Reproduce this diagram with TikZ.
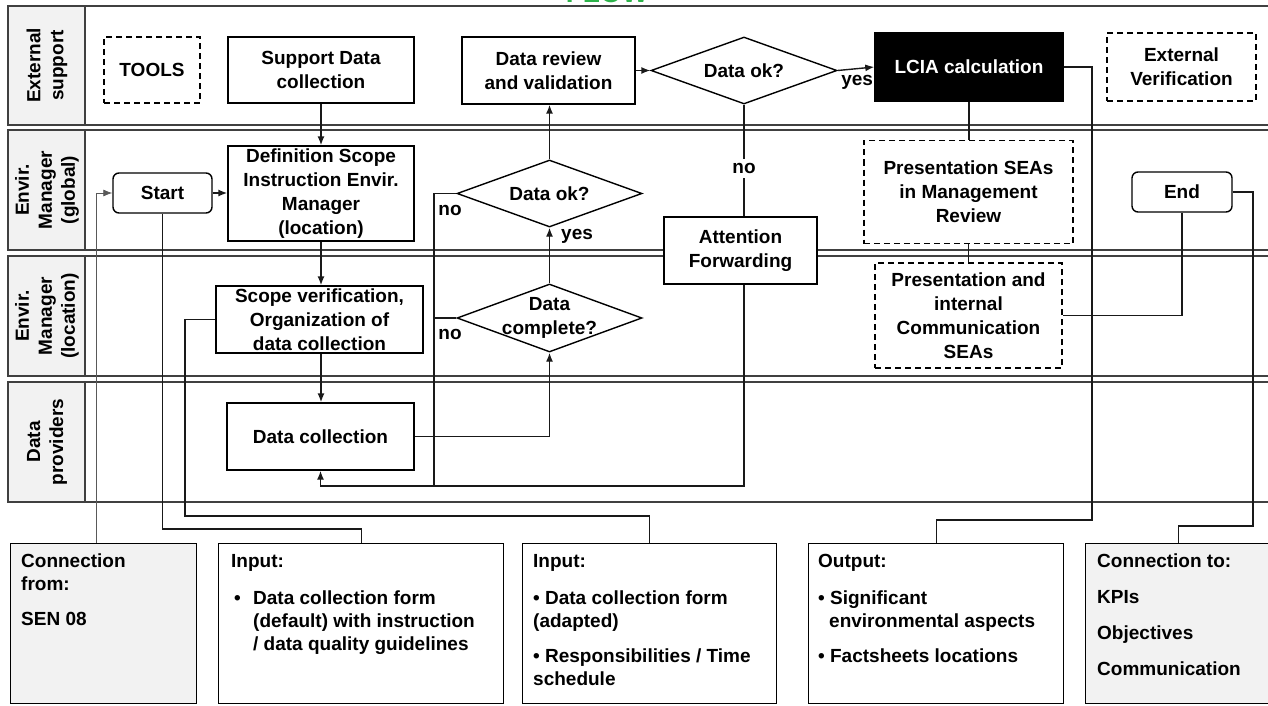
\documentclass[tikz,border=0pt]{standalone}
\usepackage{fontspec}
\setmainfont{Liberation Sans}
\usetikzlibrary{arrows.meta,shapes.geometric,calc}
\definecolor{lanegray}{HTML}{F2F2F2}
\definecolor{laneline}{HTML}{404040}
\definecolor{titlegreen}{HTML}{2DB34A}
\begin{document}
\begin{tikzpicture}[x=1pt,y=-1pt,
  font=\bfseries\fontsize{19}{24}\selectfont,
  ln/.style={line width=1.4pt, draw=black!90},
  arr/.style={ln, -{Latex[length=9pt,width=7pt]}},
  thinarr/.style={line width=0.8pt, draw=black!65, -{Latex[length=9pt,width=7pt]}},
  box/.style={draw, line width=1.4pt, fill=white, align=center, inner sep=0pt},
  dbox/.style={box, dash pattern=on 6pt off 4pt},
  rbox/.style={box, rounded corners=6pt},
  diam/.style={draw, line width=1.4pt, fill=white, diamond, inner sep=0pt, minimum width=186pt, minimum height=67pt},
  dtext/.style={align=center, inner sep=0pt},
  lane/.style={draw=laneline, line width=1.4pt},
  lanelab/.style={rotate=90, align=center, inner sep=0pt, font=\bfseries\fontsize{19}{23}\selectfont},
  lbl/.style={inner sep=1pt},
  bbox/.style={draw, line width=1.4pt, minimum height=160pt, inner sep=0pt, anchor=north west},
  btext/.style={anchor=north west, align=left, inner sep=0pt, font=\bfseries\fontsize{19}{23}\selectfont}
]
\useasboundingbox (0,0) rectangle (1268,706);

% title fragment (cut by the page edge)
\node[text=titlegreen, anchor=base, inner sep=0pt, font=\bfseries\fontsize{28}{30}\selectfont] (title) at (607,3) {FLOW};

% swim lanes
\foreach \t/\b in {6/125,130/250,256/376,382/502} {
  \fill[lanegray] (8,\t) rectangle (85,\b);
  \draw[lane] (1290,\t) -- (8,\t) -- (8,\b) -- (1290,\b);
  \draw[lane] (85,\t) -- (85,\b);
}
\node[lanelab] (lab1) at (47,65.5) {External\\support};
\node[lanelab] (lab2) at (47,190) {Envir.\\Manager\\(global)};
\node[lanelab] (lab3) at (47,316) {Envir.\\Manager\\(location)};
\node[lanelab] (lab4) at (47,442) {Data\\providers};

% lane 1
\node[dbox, minimum width=96pt, minimum height=66pt] (tools) at (152,70) {TOOLS};
\node[box, minimum width=186pt, minimum height=66pt] (sdc) at (321,70) {Support Data\\collection};
\node[box, minimum width=173pt, minimum height=67pt] (review) at (548.5,70.5) {Data review\\and validation};
\node[diam, label={[dtext]center:Data ok?}] (ok1) at (744,70.5) {};
\node[box, fill=black, text=white, minimum width=188pt, minimum height=68pt] (lcia) at (969,67) {LCIA calculation};
\node[dbox, minimum width=149pt, minimum height=68pt] (ext) at (1181.5,67) {External\\Verification};

% lane 2
\node[rbox, minimum width=99pt, minimum height=40pt] (start) at (162.5,193) {Start};
\node[box, minimum width=186pt, minimum height=95pt] (def) at (321,193.5) {Definition Scope\\Instruction Envir.\\Manager\\(location)};
\node[diam, minimum width=185pt, label={[dtext]center:Data ok?}] (ok2) at (549.5,193.5) {};
\node[dbox, minimum width=209pt, minimum height=103pt] (psmr) at (968.5,192) {Presentation SEAs\\in Management\\Review};
\node[rbox, minimum width=100pt, minimum height=40pt] (end) at (1182,192) {End};

% lane 3
\node[box, minimum width=207pt, minimum height=67pt] (scope) at (319.5,319.5) {Scope verification,\\Organization of\\data collection};
\node[diam, minimum width=185pt, minimum height=68pt, label={[dtext]center:Data\\complete?}] (dcomp) at (549.5,318) {};
\node[dbox, minimum width=187pt, minimum height=105pt] (pic) at (968.5,315.5) {Presentation and\\internal\\Communication\\SEAs};

% lane 4
\node[box, minimum width=187pt, minimum height=67pt] (dc) at (320.5,436.5) {Data collection};

% straddling lanes 2/3
\node[box, minimum width=153pt, minimum height=67pt] (af) at (740.5,250.5) {Attention\\Forwarding};

% bottom boxes
\node[bbox, fill=lanegray, minimum width=186pt] (cfrom) at (10,543) {};
\node[bbox, fill=white, minimum width=285pt] (in1) at (218,543) {};
\node[bbox, fill=white, minimum width=254pt] (in2) at (522,543) {};
\node[bbox, fill=white, minimum width=255pt] (out) at (808,543) {};
\node[bbox, fill=lanegray, minimum width=186pt] (cto) at (1085,543) {};

\node[btext] (tfrom) at (21,554) {Connection\\from:\\[12pt]SEN 08};
\node[btext] (tin1) at (231,554) {Input:\\[14pt]\makebox[22pt][l]{\hspace{3pt}•}Data collection form\\\hspace*{22pt}(default) with instruction\\\hspace*{22pt}/ data quality guidelines};
\node[btext] (tin2) at (533,554) {Input:\\[14pt]• Data collection form\\(adapted)\\[12pt]• Responsibilities / Time\\schedule};
\node[btext] (tout) at (818,554) {Output:\\[14pt]• Significant\\\hspace*{11pt}environmental aspects\\[12pt]• Factsheets locations};
\node[btext] (tto) at (1097,554) {Connection to:\\[13pt]KPIs\\[13pt]Objectives\\[13pt]Communication};

% turning points
\coordinate (loop) at (320.5,486);
\coordinate (nocol) at (434,486);
\coordinate (in2turn) at (185,516);
\coordinate (outturn) at (1092,520);
\coordinate (ctoturn) at (1253,526);

% connectors
\draw[arr] (sdc.south) -- (def.north);
\draw[arr] (start.east) -- (start.east -| def.west);
\draw[arr] (def.south) -- (def.south |- scope.north);
\draw[arr] (def.south |- scope.south) -- (def.south |- dc.north);
\draw[arr] (dc.east) -| (dcomp.south);
\draw[arr] (dcomp.north) -- node[lbl, pos=0.84, anchor=west, xshift=10pt] {yes} (ok2.south);
\draw[arr] (ok2.north) -- (ok2.north |- review.south);
\draw[arr] (review.east) -- (ok1.west);
\draw[arr] (ok1.east) -- node[lbl, pos=0.53, yshift=-14pt] {yes} (lcia.west);
\draw[ln] (ok1.south) -- node[fill=white, inner sep=4pt, pos=0.57] {no} (ok1.south |- af.north);
\draw[arr] (ok1.south |- af.south) |- (loop) -- (dc.south);
\draw[ln] (ok2.west) -| node[lbl, pos=0.5, xshift=16pt, yshift=-17pt] {no} (nocol);
\draw[ln] (dcomp.west) -- node[lbl, pos=1, xshift=16pt, yshift=-16pt] {no} (dcomp.west -| nocol);
\draw[ln] (lcia.south) -- (lcia.south |- psmr.north);
\draw[ln] (psmr.south) -- (pic.north);
\draw[ln] (end.south) |- (pic.east);

\draw[thinarr] ($(cfrom.north)+(-7,0)$) |- (start.west);
\draw[ln] (start.south) |- ($(in1.north)+(0,-14)$) -- (in1.north);
\draw[ln] (scope.west) -| (in2turn) -| (in2.north);
\draw[ln] (lcia.east) -| (outturn) -| (out.north);
\draw[ln] (end.east) -| (ctoturn) -| (cto.north);
\end{tikzpicture}
\end{document}
